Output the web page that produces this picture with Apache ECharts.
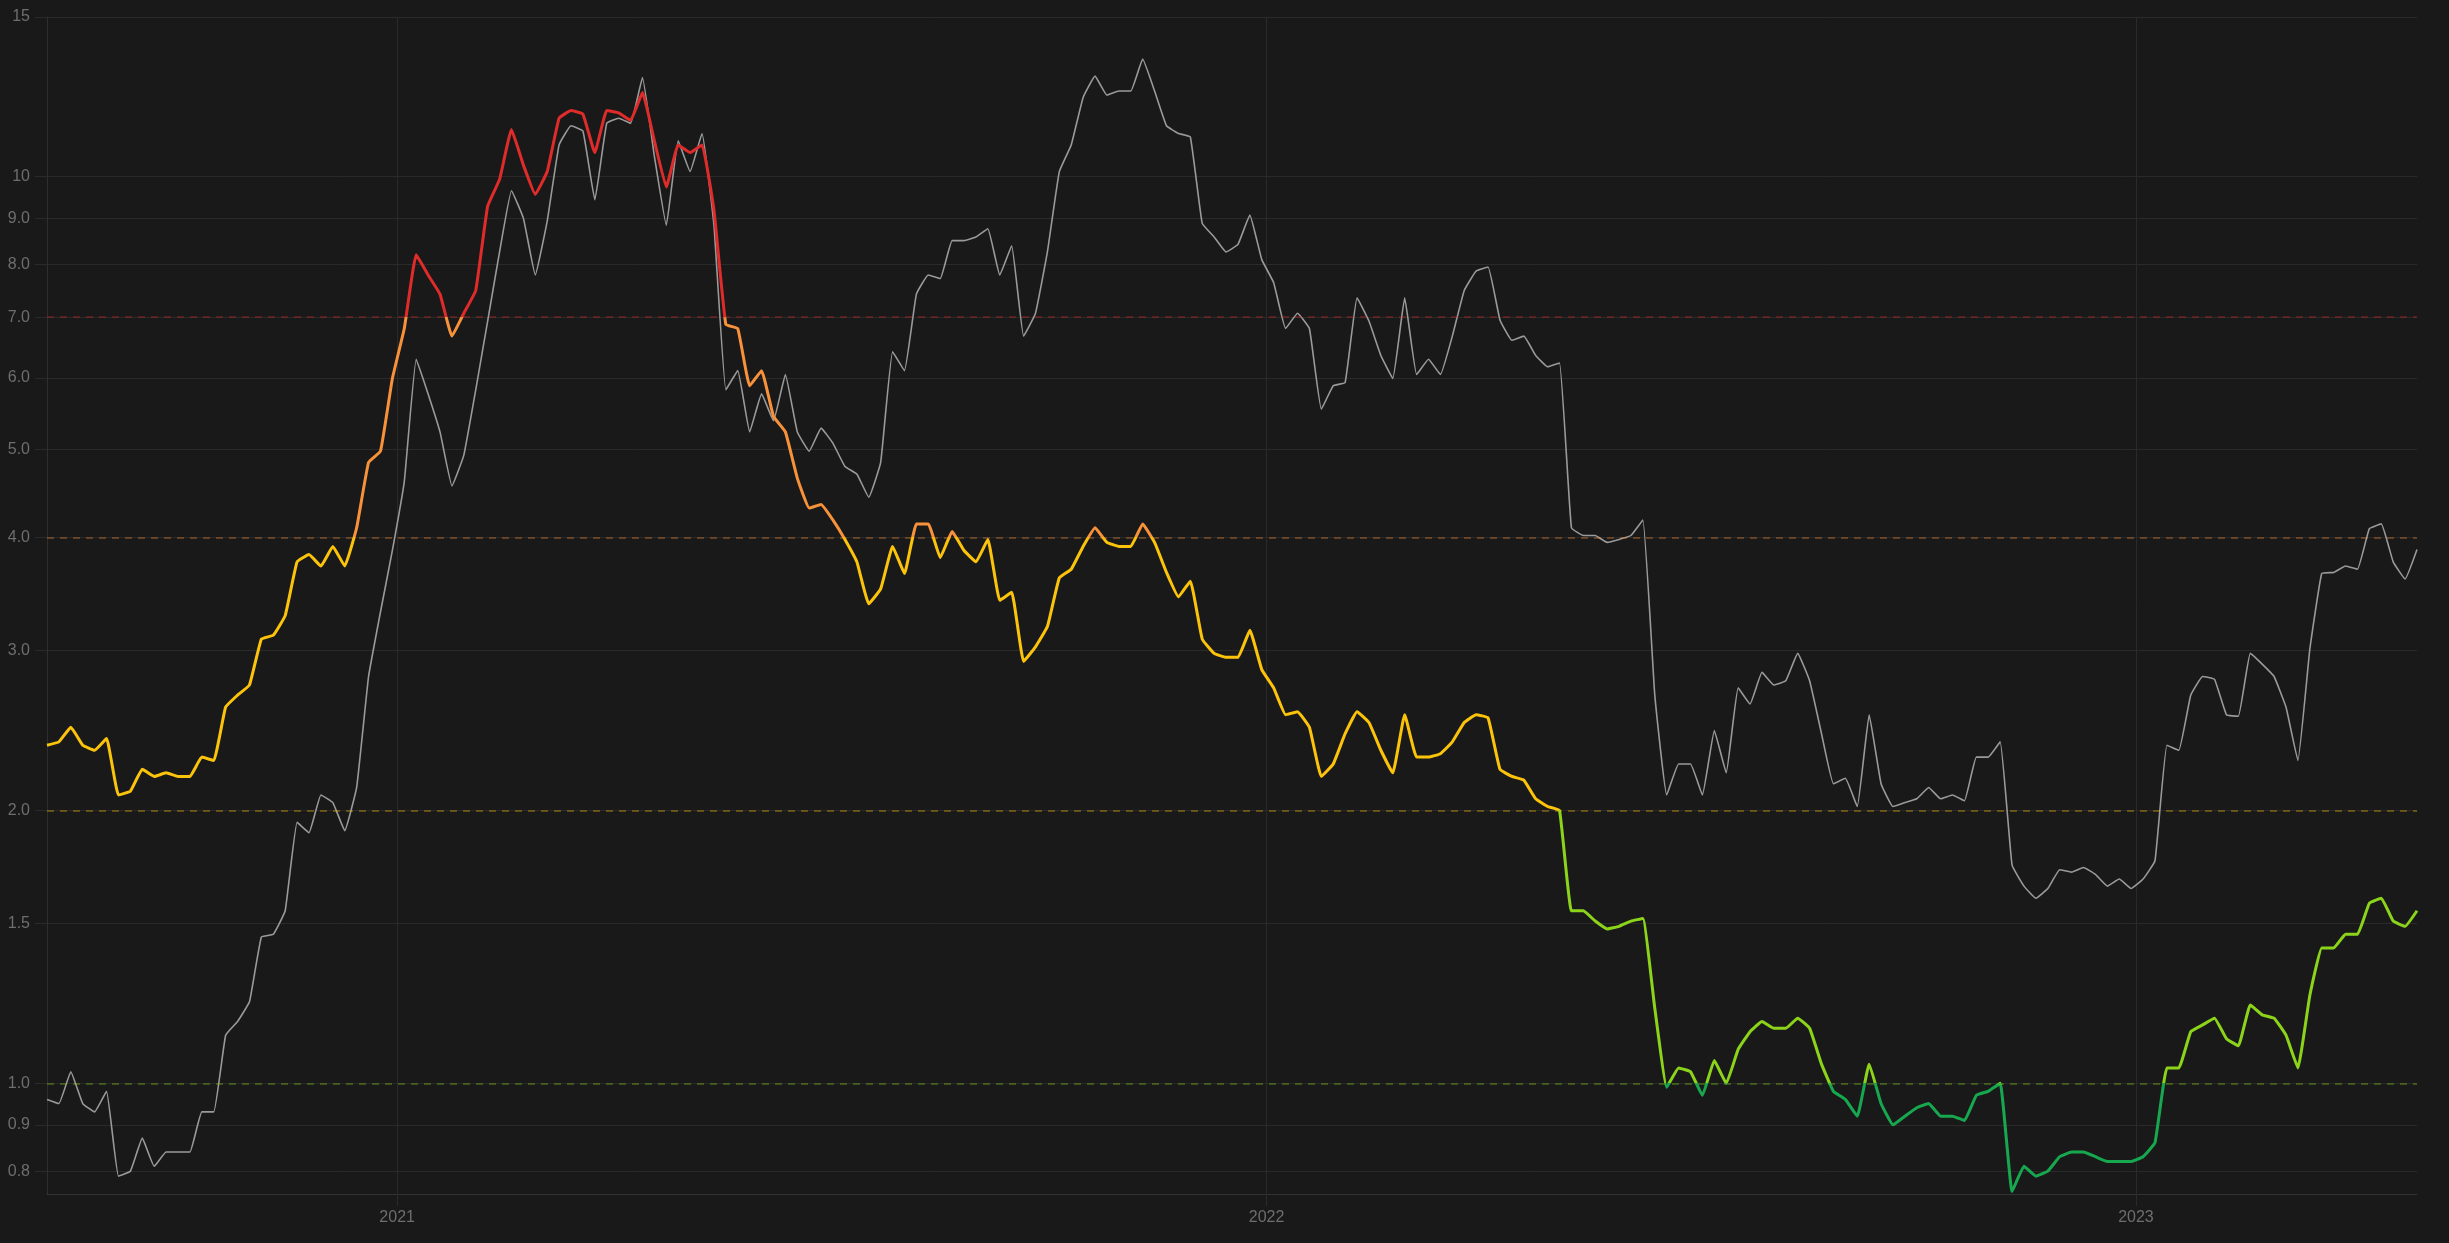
<!DOCTYPE html>
<html><head><meta charset="utf-8">
<script src="https://cdn.jsdelivr.net/npm/echarts@6/dist/echarts.min.js"></script>
<style>html,body{margin:0;padding:0;background:#191919;}#c{width:2449px;height:1243px;}</style>
</head><body><div id="c"></div>
<script>
// ---- data ----
const startDate = '2020-08-07';
const stepDays = 5;

const coloredValues = [
2.36,2.38,2.47,2.36,2.33,2.40,2.08,2.10,2.22,2.18,
2.20,2.18,2.18,2.29,2.27,2.60,2.68,2.75,3.09,3.12,
3.28,3.76,3.83,3.72,3.91,3.72,4.10,4.84,4.98,5.99,
6.80,8.20,7.79,7.42,6.67,7.07,7.49,9.28,9.93,11.27,
10.3,9.56,10.13,11.6,11.83,11.72,10.63,11.83,11.76,11.54,
12.38,10.95,9.74,10.84,10.63,10.84,9.19,6.87,6.80,5.88,
6.11,5.44,5.23,4.65,4.31,4.35,4.18,3.98,3.76,3.38,
3.51,3.91,3.65,4.14,4.14,3.80,4.06,3.87,3.76,3.98,
3.41,3.48,2.92,3.03,3.19,3.61,3.69,3.91,4.10,3.95,
3.91,3.91,4.14,3.95,3.66,3.44,3.58,3.09,2.98,2.95,
2.95,3.16,2.86,2.73,2.55,2.57,2.47,2.18,2.25,2.43,
2.57,2.50,2.33,2.20,2.55,2.29,2.29,2.31,2.38,2.50,
2.55,2.53,2.22,2.18,2.16,2.06,2.02,2.00,1.55,1.55,
1.51,1.48,1.49,1.51,1.52,1.21,0.99,1.04,1.03,0.97,
1.06,1.00,1.09,1.14,1.17,1.15,1.15,1.18,1.15,1.05,
0.98,0.96,0.92,1.05,0.95,0.90,0.92,0.94,0.95,0.92,
0.92,0.91,0.97,0.98,1.00,0.76,0.81,0.79,0.80,0.83,
0.84,0.84,0.83,0.82,0.82,0.82,0.83,0.86,1.04,1.04,
1.14,1.16,1.18,1.12,1.10,1.22,1.19,1.18,1.13,1.04,
1.25,1.41,1.41,1.46,1.46,1.58,1.60,1.51,1.49,1.55
];

const grayValues = [
0.96,0.95,1.03,0.95,0.93,0.98,0.79,0.80,0.87,0.81,
0.84,0.84,0.84,0.93,0.93,1.13,1.17,1.23,1.45,1.46,
1.55,1.94,1.89,2.08,2.04,1.90,2.12,2.81,3.31,3.87,
4.61,6.29,5.76,5.23,4.56,4.93,5.82,6.93,8.26,9.65,
9.0,7.79,8.93,10.84,11.38,11.23,9.43,11.45,11.6,11.45,
12.86,10.53,8.84,10.95,10.13,11.16,8.84,5.82,6.11,5.23,
5.76,5.38,6.05,5.23,4.98,5.28,5.08,4.79,4.70,4.43,
4.84,6.41,6.11,7.42,7.79,7.72,8.50,8.50,8.58,8.76,
7.79,8.39,6.67,7.07,8.26,10.13,10.84,12.23,12.91,12.3,
12.43,12.43,13.48,12.43,11.38,11.16,11.06,8.88,8.58,8.26,
8.42,9.07,8.10,7.64,6.80,7.07,6.80,5.54,5.88,5.93,
7.35,6.93,6.35,5.99,7.35,6.05,6.29,6.05,6.67,7.49,
7.87,7.95,6.95,6.60,6.67,6.35,6.17,6.23,4.10,4.02,
4.02,3.95,3.98,4.02,4.18,2.68,2.08,2.25,2.25,2.08,
2.45,2.20,2.73,2.62,2.84,2.75,2.78,2.98,2.78,2.43,
2.14,2.17,2.02,2.55,2.14,2.02,2.04,2.06,2.12,2.06,
2.08,2.05,2.29,2.29,2.38,1.74,1.65,1.60,1.64,1.72,
1.71,1.73,1.70,1.65,1.68,1.64,1.68,1.76,2.36,2.33,
2.68,2.81,2.79,2.55,2.54,2.98,2.90,2.81,2.60,2.27,
3.01,3.65,3.66,3.72,3.69,4.09,4.14,3.76,3.60,3.88
];

const yTicks = [0.8, 0.9, 1, 1.5, 2, 3, 4, 5, 6, 7, 8, 9, 10, 15];
const yearTicks = ['2021-01-01', '2022-01-01', '2023-01-01'];
const thresholds = [1, 2, 4, 7];
const bandColors = ['#17a84f', '#8bd41a', '#fcc30b', '#f7923a', '#e02b2b'];

// ---- build ----
const DAY = 86400000;
const t0 = Date.parse(startDate + 'T00:00:00Z');
const dates = coloredValues.map((_, i) => t0 + i * stepDays * DAY);
const coloredData = coloredValues.map((v, i) => [dates[i], v]);
const grayData = grayValues.map((v, i) => [dates[i], v]);
const yearTickTimes = yearTicks.map(s => Date.parse(s + 'T00:00:00Z'));

function hexA(hex, a) {
  const n = parseInt(hex.slice(1), 16);
  return 'rgba(' + ((n >> 16) & 255) + ',' + ((n >> 8) & 255) + ',' + (n & 255) + ',' + a + ')';
}

const pieces = [];
const bounds = [null].concat(thresholds).concat([null]);
for (let k = 0; k < bandColors.length; k++) {
  const p = { color: bandColors[k] };
  if (bounds[k] !== null) p.gte = bounds[k];
  if (bounds[k + 1] !== null) p.lt = bounds[k + 1];
  pieces.push(p);
}

const labelColor = '#6e6e6e';
const gridColor = '#2a2a2a';
const fontFamily = '"Liberation Sans", Arial, sans-serif';

const chart = echarts.init(document.getElementById('c'), null, { renderer: 'canvas' });
chart.setOption({
  backgroundColor: '#191919',
  animation: false,
  grid: { left: 47, right: 32, top: 17, bottom: 49, containLabel: false, outerBoundsMode: 'none' },
  xAxis: {
    type: 'value',
    min: 'dataMin',
    max: 'dataMax',
    axisLine: { show: true, lineStyle: { color: '#333333', width: 1 } },
    axisTick: { show: true, length: 12, customValues: yearTickTimes, lineStyle: { color: gridColor } },
    splitLine: { show: true, lineStyle: { color: gridColor, width: 1 } },
    axisLabel: {
      customValues: yearTickTimes,
      formatter: v => String(new Date(v + DAY / 2).getUTCFullYear()),
      color: labelColor, fontSize: 16, fontFamily: fontFamily, margin: 16
    }
  },
  yAxis: {
    type: 'log',
    logBase: 10,
    min: 0.755,
    max: 15,
    axisLine: { show: true, lineStyle: { color: '#2e2e2e', width: 1 } },
    axisTick: { show: true, length: 12, customValues: yTicks, lineStyle: { color: gridColor } },
    splitLine: { show: true, lineStyle: { color: gridColor, width: 1 } },
    axisLabel: {
      customValues: yTicks,
      formatter: v => (v >= 9.95 ? String(Math.round(v)) : v.toFixed(1)),
      color: labelColor, fontSize: 16, fontFamily: fontFamily, margin: 17
    }
  },
  visualMap: {
    type: 'piecewise',
    show: false,
    seriesIndex: 1,
    dimension: 1,
    pieces: pieces
  },
  series: [
    {
      name: 'gray',
      type: 'line',
      data: grayData,
      showSymbol: false,
      smooth: 0.1,
      lineStyle: { color: '#9a9a9a', width: 1.6 },
      z: 2
    },
    {
      name: 'colored',
      type: 'line',
      data: coloredData,
      showSymbol: false,
      smooth: 0.1,
      lineStyle: { width: 3 },
      z: 3,
      markLine: {
        silent: true,
        symbol: 'none',
        label: { show: false },
        data: thresholds.map((t, k) => ({
          yAxis: t,
          lineStyle: { color: hexA(bandColors[k + 1], 0.42), type: [7, 6], width: 1.6 }
        }))
      }
    }
  ]
});
</script>
</body></html>
